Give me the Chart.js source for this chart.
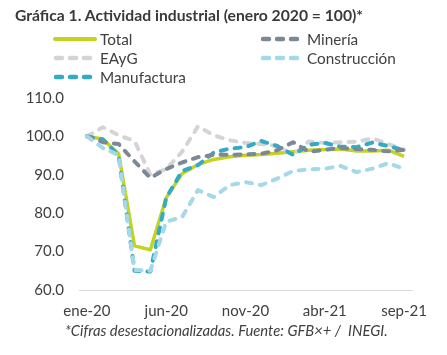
<!DOCTYPE html>
<html><head><meta charset="utf-8">
<script src="https://cdn.jsdelivr.net/npm/chart.js@4"></script>
<style>
html,body{margin:0;padding:0;background:#fff;}
#wrap{position:relative;width:447px;height:355px;overflow:hidden;font-family:Lato,sans-serif;}
#c{position:absolute;left:0;top:0;}
.title{position:absolute;left:15px;top:6px;font-weight:bold;font-size:15.7px;line-height:19px;color:#3a3a3a;white-space:nowrap;}
.leg{position:absolute;height:18px;font-size:15.3px;line-height:18px;color:#404040;display:flex;align-items:center;white-space:nowrap;}
.leg svg{display:block;margin-right:3px;}
.foot{position:absolute;left:65px;top:321px;font-style:italic;font-size:14.8px;line-height:18px;color:#404040;white-space:nowrap;}
</style>
</head><body>
<div id="wrap">
<canvas id="c" width="447" height="355"></canvas>
<div class="title">Gráfica 1. Actividad industrial (enero 2020 = 100)*</div>
<div id="legend"></div>
<div class="foot">*Cifras desestacionalizadas. Fuente: GFB×+ /&nbsp; INEGI.</div>
</div>
<script>
const categories = ['ene-20','feb-20','mar-20','abr-20','may-20','jun-20','jul-20','ago-20','sep-20','oct-20','nov-20','dic-20',
  'ene-21','feb-21','mar-21','abr-21','may-21','jun-21','jul-21','ago-21','sep-21'];
const xTickLabels = ['ene-20','jun-20','nov-20','abr-21','sep-21'];
const yTickLabels = ['60.0','70.0','80.0','90.0','100.0','110.0'];
const seriesNames = ['Total','Minería','EAyG','Construcción','Manufactura'];
const total        = [100, 99.3, 95.5, 71.5, 70.5, 84, 90.3, 92.7, 94, 94.7, 95.1, 95.3, 95.6, 96, 96.4, 96.6, 96.7, 96.2, 96.2, 96.4, 94.8];
const mineria      = [100, 98.5, 98, 93.5, 89.2, 91.5, 93.2, 94.6, 95.2, 95.2, 95.3, 95.5, 96.4, 98.5, 96, 96.5, 97, 96.7, 96.5, 96.1, 96.5];
const eayg         = [100, 102.4, 100.3, 98.8, 90, 91.5, 96, 102.6, 100.3, 99, 98.3, 98, 97.5, 95.2, 98.7, 98.3, 98.5, 98.6, 99.5, 98, 96.5];
const construccion = [100, 97, 95.1, 65.2, 65, 77.8, 79, 86, 84.2, 87.3, 88.1, 87.3, 89, 91, 91.4, 91.6, 92.3, 90.7, 91.6, 93, 91.6];
const manufactura  = [100, 99.2, 95, 65, 64.8, 84, 91, 92.5, 95.8, 96.8, 97.2, 98.8, 97.5, 95.2, 97.8, 98.3, 97.3, 97.2, 98.4, 97.5, 96.4];

const colors = {Total:'#C3D31F', 'Minería':'#7D8897', EAyG:'#D4D4D4', 'Construcción':'#A5D9EA', Manufactura:'#35AAC6'};
const values = {Total:total, 'Minería':mineria, EAyG:eayg, 'Construcción':construccion, Manufactura:manufactura};
const drawOrder = {Total:4, EAyG:3, Manufactura:2, 'Minería':1, 'Construcción':0};

// legend (HTML)
const legPos = {
  'Total':[53,39], 'Minería':[260,39], 'EAyG':[53,58], 'Construcción':[260,58], 'Manufactura':[53,77]
};
const legEl = document.getElementById('legend');
seriesNames.forEach(n=>{
  const [x,cy] = legPos[n];
  const d = document.createElement('div');
  d.className='leg'; d.style.left=x+'px'; d.style.top=(cy-9)+'px';
  const solid = n==='Total';
  const w = 44;
  d.innerHTML = solid
    ? `<svg width="${w}" height="10"><line x1="2" y1="5" x2="${w-2}" y2="5" stroke="${colors[n]}" stroke-width="4" stroke-linecap="round"/></svg>`
    : `<svg width="${w}" height="10"><line x1="3" y1="5" x2="41" y2="5" stroke="${colors[n]}" stroke-width="4.5" stroke-linecap="round" stroke-dasharray="6 8"/></svg>`;
  d.innerHTML += `<span>${n}</span>`;
  legEl.appendChild(d);
});

const datasets = seriesNames.map(n=>({
  label:n,
  data:values[n],
  borderColor:colors[n],
  backgroundColor:colors[n],
  borderWidth: n==='Total'?3.5:4,
  borderDash: n==='Total'?[]:[6,8],
  borderCapStyle: n==='Total'?'butt':'round',
  borderJoinStyle:'round',
  pointRadius:0,
  tension:0,
  fill:false,
  order:drawOrder[n]
}));

new Chart(document.getElementById('c'), {
  type:'line',
  data:{labels:categories, datasets},
  options:{
    responsive:false, devicePixelRatio:1, animation:false,
    layout:{padding:{left:0,right:35,top:98,bottom:0}},
    plugins:{legend:{display:false}, tooltip:{enabled:false}, title:{display:false}},
    scales:{
      x:{
        offset:true,
        grid:{display:false, drawTicks:false},
        border:{display:true, color:'#D9D9D9', width:1},
        ticks:{autoSkip:false, maxRotation:0, padding:12, color:'#404040', font:{family:'Lato', size:15},
          callback:function(v,i){ const l=categories[i]; return xTickLabels.includes(l)?l:''; }},
        afterFit:s=>{s.height=65;}
      },
      y:{
        min:60, max:110,
        grid:{display:false, drawTicks:false},
        border:{display:false},
        ticks:{stepSize:10, padding:15, color:'#404040', font:{family:'Lato', size:15},
          callback:function(v){ const i=Math.round((v-60)/10); return yTickLabels[i]; }},
        afterFit:s=>{s.width=79;}
      }
    }
  }
});
</script>
</body></html>
